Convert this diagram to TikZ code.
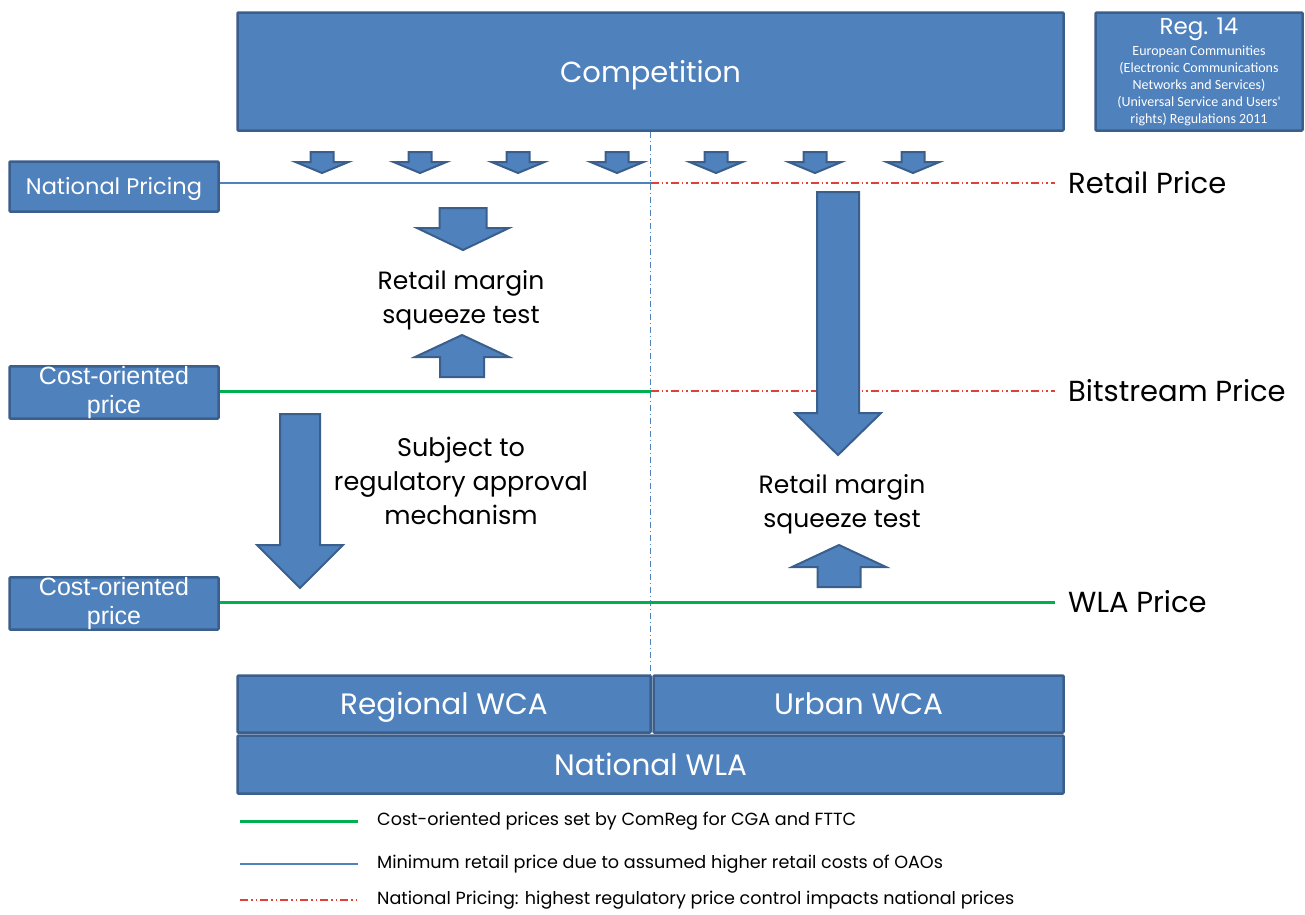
\documentclass[tikz,border=0pt]{standalone}
\usepackage{fontspec}
\setmainfont{Poppins}
\newfontfamily\arialfont{Liberation Sans}
\newfontfamily\calibrifont{Carlito}
\usetikzlibrary{calc}
\definecolor{boxblue}{HTML}{4F81BD}
\definecolor{boxedge}{HTML}{3A5F8C}
\definecolor{costgreen}{HTML}{00B050}
\definecolor{natred}{HTML}{E0403A}
\tikzstyle{block} = [rectangle, draw=boxedge, fill=boxblue, line width=2.5pt, rounded corners=1pt, text=white, inner sep=0pt, align=center]
\tikzset{oneline/.style={text height=#1, text depth=0pt}}
\tikzstyle{fat} = [draw=boxedge, fill=boxblue, line width=2pt, line join=miter]
\tikzstyle{costline} = [costgreen, line width=3pt]
\tikzstyle{retailline} = [boxblue, line width=1.2pt]
\tikzstyle{natline} = [natred, line width=1.5pt, dash pattern=on 8pt off 3pt on 1.5pt off 3pt on 1.5pt off 3pt]
\tikzstyle{midline} = [boxblue, line width=1pt, dash pattern=on 6pt off 3pt on 1pt off 3pt]
\tikzstyle{pricelabel} = [anchor=west, inner sep=0pt, font=\fontsize{29}{32}\selectfont]
\tikzstyle{legendtext} = [anchor=west, inner sep=0pt, font=\fontsize{17.6}{20}\selectfont]
% block arrow: centre x, start y, head y, tip y, shaft half width, head half width
\newcommand{\fatarrow}[6]{%
  \filldraw[fat] (#1-#5,#2) -- (#1+#5,#2) -- (#1+#5,#3) -- (#1+#6,#3) -- (#1,#4) -- (#1-#6,#3) -- (#1-#5,#3) -- cycle;}

\begin{document}
\begin{tikzpicture}[x=1pt, y=-1pt]
\useasboundingbox (0,0) rectangle (1305,914);

% boxes
\node (comp) [block, oneline=21pt, minimum width=826, minimum height=118, font=\fontsize{29}{34}\selectfont] at (650.5,71.5) {Competition};
\node (reg) [block, minimum width=207, minimum height=118, font=\calibrifont\fontsize{14}{17}\selectfont] at (1199,71.5)
  {{\normalfont\fontsize{23}{26}\selectfont Reg. 14}\\[4pt]
   European Communities\\(Electronic Communications\\Networks and Services)\\(Universal Service and Users'\\rights) Regulations 2011};
\node (natp) [block, oneline=16pt, minimum width=209, minimum height=50, font=\fontsize{22.5}{26}\selectfont] at (114,186.5) {National Pricing};
\node (cost1) [block, minimum width=209, minimum height=50, font=\arialfont\fontsize{25}{29}\selectfont] at (114,392.5) {Cost-oriented\\price};
\node (cost2) [block, minimum width=209, minimum height=50, font=\arialfont\fontsize{25}{29}\selectfont] at (114,603.5) {Cost-oriented\\price};
\node (regional) [block, oneline=21pt, minimum width=413, minimum height=57, font=\fontsize{29.5}{32}\selectfont] at (444,704) {Regional WCA};
\node (urban) [block, oneline=21pt, minimum width=410, minimum height=57, font=\fontsize{29.5}{32}\selectfont] at (858.5,704) {Urban WCA};
\node (natwla) [block, oneline=21pt, minimum width=826, minimum height=58, font=\fontsize{29.5}{32}\selectfont] at (650.5,764.5) {National WLA};

% price labels
\node (rpl) [pricelabel] at (1068,183) {Retail Price};
\node (bpl) [pricelabel] at (1068,391) {Bitstream Price};
\node (wpl) [pricelabel] at (1068,602) {WLA Price};

% texts
\node (sq1) [align=center, font=\fontsize{25}{34}\selectfont] at (461,300) {Retail margin\\squeeze test};
\node (subj) [align=center, font=\fontsize{25.5}{34}\selectfont] at (461,481) {Subject to\\regulatory approval\\mechanism};
\node (sq2) [align=center, font=\fontsize{25}{34}\selectfont] at (842,504) {Retail margin\\squeeze test};

% price lines
\coordinate (mid) at (comp.south);
\draw [midline] (mid) -- (mid |- regional.north);
\draw [retailline] (natp.east |- rpl) -- (mid |- rpl);
\draw [natline] (mid |- rpl) -- ([xshift=-13]rpl.west);
\draw [costline] (cost1.east |- bpl) -- (mid |- bpl);
\draw [natline] (mid |- bpl) -- ([xshift=-13]bpl.west);
\draw [costline] (cost2.east |- wpl) -- ([xshift=-13]wpl.west);

% arrows
\foreach \cx in {322,420,518,617,716,815,913}{
  \fatarrow{\cx}{152}{162}{173}{11.5}{26.5}
}
\fatarrow{463}{208}{228}{250}{23.5}{46}
\fatarrow{462}{377}{357}{335}{22}{47}
\fatarrow{300}{414}{545}{588}{20}{43}
\fatarrow{838}{192}{413}{455}{21}{43}
\fatarrow{839}{587}{567}{545}{21.5}{47}

% legend
\node (lt1) [legendtext] at (377,821) {Cost-oriented prices set by ComReg for CGA and FTTC};
\node (lt2) [legendtext] at (377,864) {Minimum retail price due to assumed higher retail costs of OAOs};
\node (lt3) [legendtext] at (377,900) {National Pricing: highest regulatory price control impacts national prices};
\draw [costline] ([xshift=-137]lt1.west) -- ([xshift=-19]lt1.west);
\draw [retailline] ([xshift=-137]lt2.west) -- ([xshift=-19]lt2.west);
\draw [natline] ([xshift=-137]lt3.west) -- ([xshift=-19]lt3.west);
\end{tikzpicture}
\end{document}
